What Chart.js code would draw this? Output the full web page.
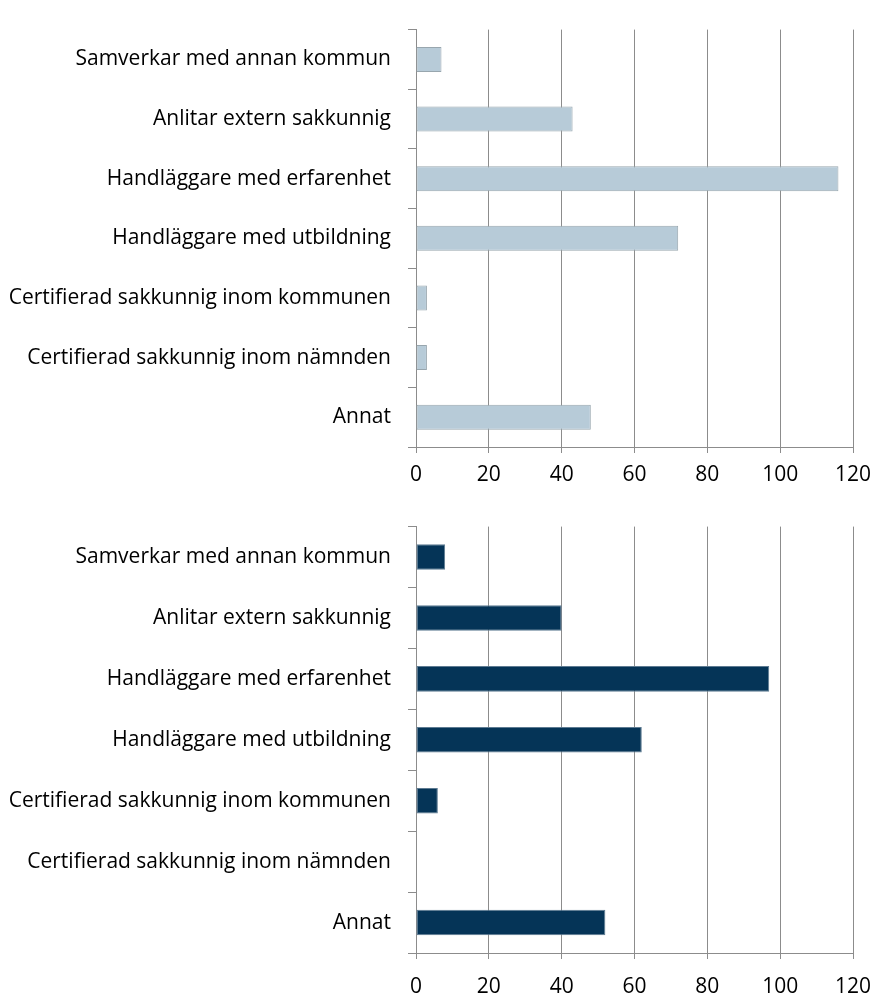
<!DOCTYPE html>
<html>
<head>
<meta charset="utf-8">
<script src="https://cdn.jsdelivr.net/npm/chart.js@4"></script>
<style>
  body { margin: 0; background: #fff; }
  canvas { display: block; position: absolute; left: 0; }
  #c1 { top: 0; }
  #c2 { top: 497px; }
</style>
</head>
<body>
<canvas id="c1" width="875" height="497"></canvas>
<canvas id="c2" width="875" height="497"></canvas>
<script>
var categories = [
  'Samverkar med annan kommun',
  'Anlitar extern sakkunnig',
  'Handläggare med erfarenhet',
  'Handläggare med utbildning',
  'Certifierad sakkunnig inom kommunen',
  'Certifierad sakkunnig inom nämnden',
  'Annat'
];
var topValues = [7, 43, 116, 72, 3, 3, 48];
var bottomValues = [8, 40, 97, 62, 6, 0, 52];
var xTicks = [0, 20, 40, 60, 80, 100, 120];

Chart.defaults.font.family = "'Open Sans', 'Noto Sans', sans-serif";
Chart.defaults.color = '#000';

function makeChart(id, values, fill, border, padTop, axisHeight, labelPad) {
  return new Chart(document.getElementById(id), {
    type: 'bar',
    data: {
      labels: categories,
      datasets: [{
        data: values,
        backgroundColor: fill,
        borderColor: border,
        borderWidth: 1,
        borderSkipped: false,
        categoryPercentage: 1,
        barPercentage: 0.42
      }]
    },
    options: {
      indexAxis: 'y',
      responsive: false,
      animation: false,
      layout: { padding: { top: padTop, right: 22, left: 0, bottom: 0 } },
      plugins: { legend: { display: false }, tooltip: { enabled: false } },
      scales: {
        x: {
          min: 0,
          max: 120,
          afterBuildTicks: function (scale) {
            scale.ticks = xTicks.map(function (v) { return { value: v }; });
          },
          afterFit: function (scale) {
            scale.height = axisHeight;
            scale.paddingLeft = 0;
            scale.paddingRight = 0;
          },
          grid: { color: '#8c8c8c', tickLength: 6, tickColor: '#8c8c8c' },
          border: { color: '#8c8c8c' },
          ticks: { font: { size: 21 }, padding: labelPad, maxRotation: 0 }
        },
        y: {
          afterFit: function (scale) { scale.width = 416; },
          grid: { drawOnChartArea: false, offset: true, tickLength: 8, color: '#8c8c8c' },
          border: { color: '#8c8c8c' },
          ticks: { font: { size: 21 }, padding: 17 }
        }
      }
    }
  });
}

makeChart('c1', topValues, '#b7cbd8', '#98a6ae', 15, 50, 9);
makeChart('c2', bottomValues, '#053457', '#5d7a91', 25, 41, 15);
</script>
</body>
</html>
